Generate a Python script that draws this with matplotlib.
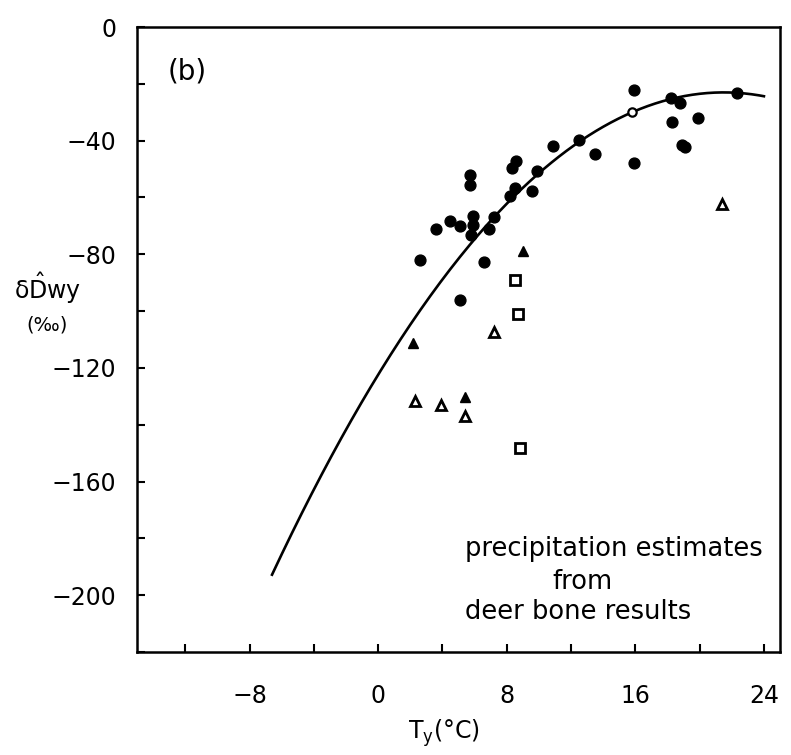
"""Deer bone precipitation estimates against temperature, panel (b)."""

import matplotlib

matplotlib.use("Agg")
import matplotlib.pyplot as plt
import numpy as np

# filled circles
circle_t = [15.9, 18.2, 18.8, 22.3, 18.3, 19.9, 18.9, 19.1, 10.9, 12.5, 13.5,
            15.9, 8.3, 8.6, 9.9, 5.7, 5.7, 8.5, 8.2, 9.6, 5.9, 5.9, 5.8, 7.2,
            4.5, 5.1, 3.6, 6.9, 2.6, 6.6, 5.1]
circle_d = [-22.2, -25.1, -26.6, -23.1, -33.3, -31.9, -41.5, -42.4, -41.8,
            -39.7, -44.8, -47.9, -49.7, -47.3, -50.6, -52.0, -55.5, -56.5,
            -59.6, -57.6, -66.4, -69.6, -73.1, -66.7, -68.4, -70.2, -71.0,
            -71.0, -81.9, -82.7, -96.0]
# open circle
ocircle_t = [15.8]
ocircle_d = [-30.0]
# filled triangles
ftri_t = [9.0, 2.2, 5.4]
ftri_d = [-79.0, -111.2, -130.3]
# open triangles
otri_t = [2.3, 3.9, 5.4, 7.2, 21.4]
otri_d = [-131.5, -132.9, -137.0, -107.3, -62.2]
# open squares
osq_t = [8.5, 8.7, 8.8]
osq_d = [-88.9, -101.0, -148.1]

# quadratic fit: d = c0 + c1*t + c2*t^2
fit_coef = [-122.4, 9.245, -0.215]
fit_range = (-6.6, 24.0)

fig = plt.figure(figsize=(7.91, 7.55), dpi=100)
ax = fig.add_axes([0.1732, 0.1364, 0.8129, 0.8278])

tt = np.linspace(*fit_range, 200)
ax.plot(tt, np.polyval(fit_coef[::-1], tt), color="black", lw=1.9)

ax.plot(circle_t, circle_d, "o", color="black", ms=7.8, ls="none")
ax.plot(ocircle_t, ocircle_d, "o", mfc="white", mec="black", mew=1.6, ms=6, ls="none")
ax.plot(ftri_t, ftri_d, "^", color="black", ms=7.8, ls="none")
ax.plot(otri_t, otri_d, "^", mfc="white", mec="black", mew=2.0, ms=7, ls="none")
ax.plot(osq_t, osq_d, "s", mfc="white", mec="black", mew=2.0, ms=7, ls="none")

ax.set_xlim(-15, 25)
ax.set_ylim(-220, 0)
ax.set_xticks([-8, 0, 8, 16, 24])
ax.set_xticks(np.arange(-12, 25, 4), minor=True)
ax.set_yticks([0, -40, -80, -120, -160, -200])
ax.set_yticks(np.arange(-220, 1, 20), minor=True)
ax.set_yticklabels(["0", "\u221240", "\u221280", "\u2212120", "\u2212160", "\u2212200"])
ax.set_xticklabels(["\u22128", "0", "8", "16", "24"])

ax.tick_params(which="both", direction="in", length=6, width=1.5, labelsize=17)
ax.tick_params(axis="y", which="both", pad=15)
ax.tick_params(axis="x", which="both", pad=23)
for sp in ax.spines.values():
    sp.set_linewidth(1.8)

ax.text(-11.9, -15.8, "(b)", fontsize=20, ha="center", va="center")
ax.text(5.4, -183.7, "precipitation estimates", fontsize=18.5, ha="left", va="center")
ax.text(12.7, -195.3, "from", fontsize=18.5, ha="center", va="center")
ax.text(5.4, -205.8, "deer bone results", fontsize=18.5, ha="left", va="center")

fig.text(444 / 791, 1 - 733 / 755, "T$_\\mathregular{y}$(\u00b0C)", fontsize=17,
         ha="center", va="center")
fig.text(48 / 791, 1 - 288 / 755, "\u03b4$\\hat{\\mathregular{D}}$wy", fontsize=17,
         ha="center", va="center")
fig.text(47 / 791, 1 - 325 / 755, "(\u2030)", fontsize=14, ha="center", va="center")

fig.savefig("out.png", dpi=100)
